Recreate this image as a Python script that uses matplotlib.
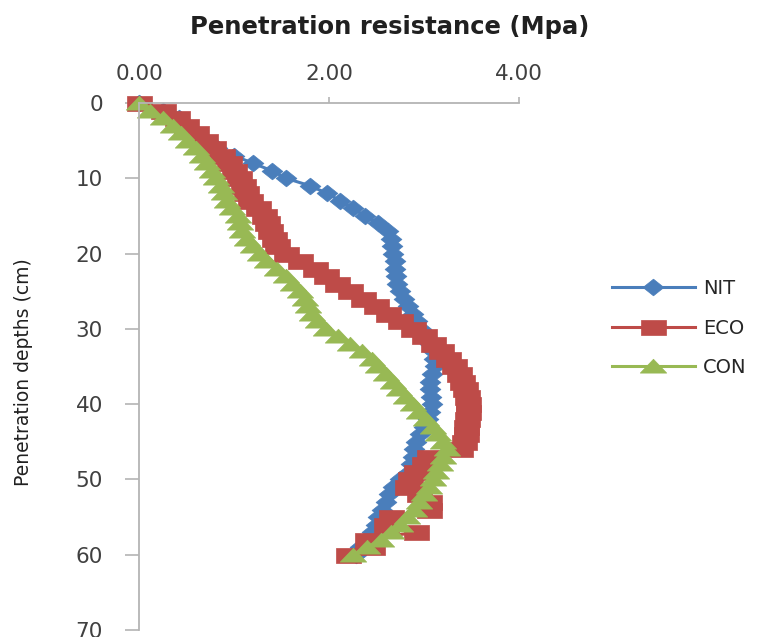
import matplotlib
matplotlib.use("Agg")
import matplotlib.pyplot as plt
from matplotlib.path import Path
import numpy as np

depth = list(range(0, 61))

nit = [0.0, 0.25, 0.42, 0.52, 0.60, 0.68, 0.82, 1.00, 1.20, 1.40,
       1.55, 1.80, 1.98, 2.12, 2.25, 2.38, 2.52, 2.62, 2.65, 2.66,
       2.67, 2.69, 2.70, 2.71, 2.72, 2.75, 2.79, 2.83, 2.88, 2.93,
       2.97, 3.02, 3.06, 3.09, 3.11, 3.12, 3.08, 3.06, 3.06, 3.07,
       3.08, 3.06, 3.04, 3.00, 2.96, 2.92, 2.90, 2.88, 2.86, 2.84,
       2.75, 2.67, 2.63, 2.60, 2.56, 2.52, 2.50, 2.45, 2.40, 2.33,
       2.28]

eco = [0.0, 0.25, 0.40, 0.50, 0.60, 0.70, 0.78, 0.87, 0.95, 1.00,
       1.05, 1.10, 1.13, 1.17, 1.25, 1.32, 1.35, 1.38, 1.42, 1.45,
       1.55, 1.70, 1.85, 1.97, 2.08, 2.22, 2.36, 2.50, 2.62, 2.75,
       2.88, 3.00, 3.10, 3.18, 3.25, 3.32, 3.37, 3.40, 3.43, 3.45,
       3.46, 3.46, 3.45, 3.44, 3.44, 3.42, 3.38, 3.05, 3.00, 2.92,
       2.85, 2.82, 2.95, 3.05, 3.05, 2.65, 2.60, 2.92, 2.40, 2.45,
       2.20]

con = [0.0, 0.12, 0.25, 0.36, 0.44, 0.52, 0.60, 0.66, 0.72, 0.77,
       0.81, 0.86, 0.90, 0.93, 0.98, 1.04, 1.06, 1.08, 1.14, 1.20,
       1.27, 1.35, 1.45, 1.55, 1.62, 1.70, 1.75, 1.78, 1.82, 1.88,
       1.97, 2.10, 2.22, 2.35, 2.45, 2.52, 2.60, 2.67, 2.74, 2.81,
       2.88, 2.95, 3.02, 3.09, 3.15, 3.20, 3.24, 3.20, 3.17, 3.13,
       3.10, 3.05, 3.00, 2.95, 2.90, 2.82, 2.75, 2.65, 2.55, 2.40,
       2.25]

series_names = ["NIT", "ECO", "CON"]
x_ticks = [0, 2, 4]
y_ticks = [0, 10, 20, 30, 40, 50, 60, 70]

colors = ["#4A7EBB", "#BE4B48", "#98B954"]

# wide (horizontally stretched) marker shapes
diamond = Path([(0, 0.8), (1, 0), (0, -0.8), (-1, 0), (0, 0.8)],
               [Path.MOVETO, Path.LINETO, Path.LINETO, Path.LINETO, Path.CLOSEPOLY])
rect = Path([(-1, -0.6), (1, -0.6), (1, 0.6), (-1, 0.6), (-1, -0.6)],
            [Path.MOVETO, Path.LINETO, Path.LINETO, Path.LINETO, Path.CLOSEPOLY])
tri = Path([(-1, -0.5), (1, -0.5), (0, 0.55), (-1, -0.5)],
           [Path.MOVETO, Path.LINETO, Path.LINETO, Path.CLOSEPOLY])
markers = [diamond, rect, tri]
msizes = [15, 18, 19]

fig = plt.figure(figsize=(7.77, 6.37), dpi=100)
ax = fig.add_axes([0.1789, 0.011, 0.489, 0.8273])

for vals, name, c, m, ms in zip([nit, eco, con], series_names, colors, markers, msizes):
    ax.plot(vals, depth, color=c, lw=2.2, marker=m, markersize=ms,
            markerfacecolor=c, markeredgecolor=c, markeredgewidth=0.5,
            label=name, clip_on=False)

ax.set_xlim(0, 4)
ax.set_ylim(70, 0)
ax.set_xticks(x_ticks)
ax.set_xticklabels([f"{v:.2f}" for v in x_ticks])
ax.set_yticks(y_ticks)
ax.set_yticklabels([str(v) for v in y_ticks])
ax.xaxis.tick_top()

for s in ["right", "bottom"]:
    ax.spines[s].set_visible(False)
for s in ["left", "top"]:
    ax.spines[s].set_color("#b4b4b4")
    ax.spines[s].set_linewidth(1.3)

ax.tick_params(axis="x", top=True, bottom=False, direction="out", length=4.5,
               width=1.2, color="#b4b4b4", labelsize=15.5, labelcolor="#404040", pad=9)
ax.tick_params(axis="y", direction="out", length=10, width=1.2, color="#b4b4b4",
               labelsize=15.5, labelcolor="#404040", pad=16)

fig.text(390 / 777, 1 - 27 / 637, "Penetration resistance (Mpa)", ha="center",
         va="center", fontsize=17.5, fontweight="bold", color="#202020")
fig.text(24 / 777, 1 - 372 / 637, "Penetration depths (cm)", ha="center", va="center",
         rotation=90, fontsize=13.5, color="#202020")

leg = fig.legend(loc="center left", bbox_to_anchor=(594 / 777, 1 - 328 / 637),
                 frameon=False, fontsize=14, handlelength=4.3, handletextpad=0.4,
                 labelspacing=1.05, numpoints=1)
for t in leg.get_texts():
    t.set_color("#262626")

fig.savefig("out.png", dpi=100)
